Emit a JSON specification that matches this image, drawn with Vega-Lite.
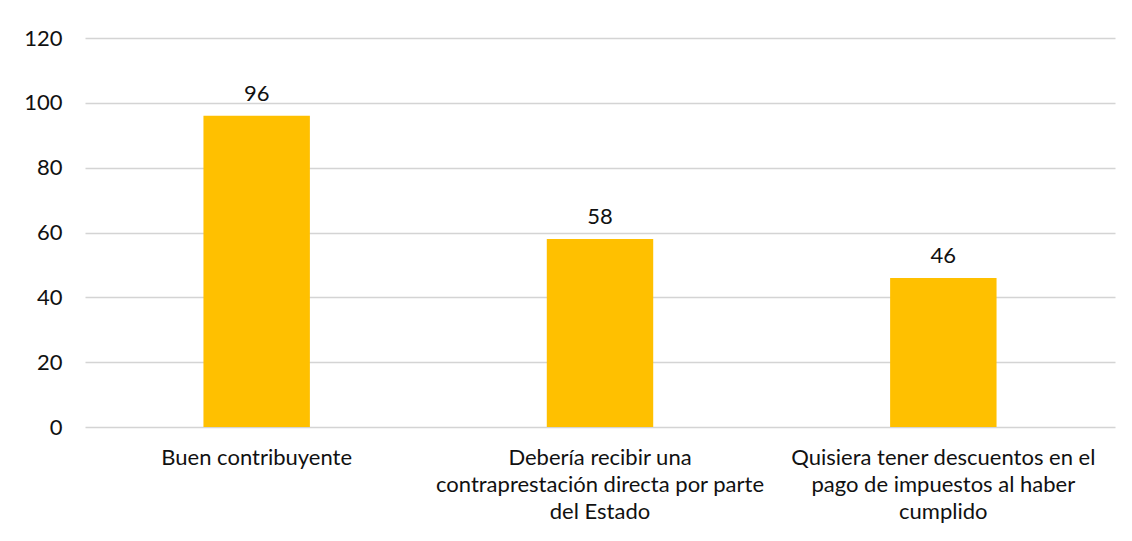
{
  "$schema": "https://vega.github.io/schema/vega-lite/v6.json",
  "width": 1030,
  "height": 389,
  "autosize": {"type": "none"},
  "padding": {"left": 85, "top": 38, "right": 17, "bottom": 114},
  "background": "white",
  "config": {
    "view": {"stroke": null},
    "font": "Lato",
    "axis": {"labelFont": "Lato", "labelColor": "#111111", "labelFontSize": 22}
  },
  "data": {
    "values": [
      {"cat": "Buen contribuyente", "value": 96},
      {"cat": "Debería recibir una|contraprestación directa por parte|del Estado", "value": 58},
      {"cat": "Quisiera tener descuentos en el|pago de impuestos al haber|cumplido", "value": 46}
    ]
  },
  "encoding": {
    "x": {
      "field": "cat", "type": "nominal", "sort": null,
      "scale": {"paddingInner": 0.69, "paddingOuter": 0.345},
      "axis": {
        "title": null, "labelAngle": 0, "ticks": false, "domain": false,
        "labelExpr": "split(datum.label, '|')",
        "labelLineHeight": 27, "labelPadding": 20, "labelLimit": 400
      }
    },
    "y": {
      "field": "value", "type": "quantitative",
      "scale": {"domain": [0, 120]},
      "axis": {
        "title": null, "values": [0, 20, 40, 60, 80, 100, 120],
        "ticks": false, "domain": false, "labelPadding": 23,
        "gridColor": "#D4D4D4", "gridWidth": 1.4
      }
    }
  },
  "layer": [
    {"mark": {"type": "bar", "color": "#FFC000"}},
    {
      "mark": {"type": "text", "baseline": "bottom", "dy": -10, "fontSize": 22, "color": "#111111", "font": "Lato"},
      "encoding": {"text": {"field": "value", "type": "quantitative"}}
    }
  ]
}
